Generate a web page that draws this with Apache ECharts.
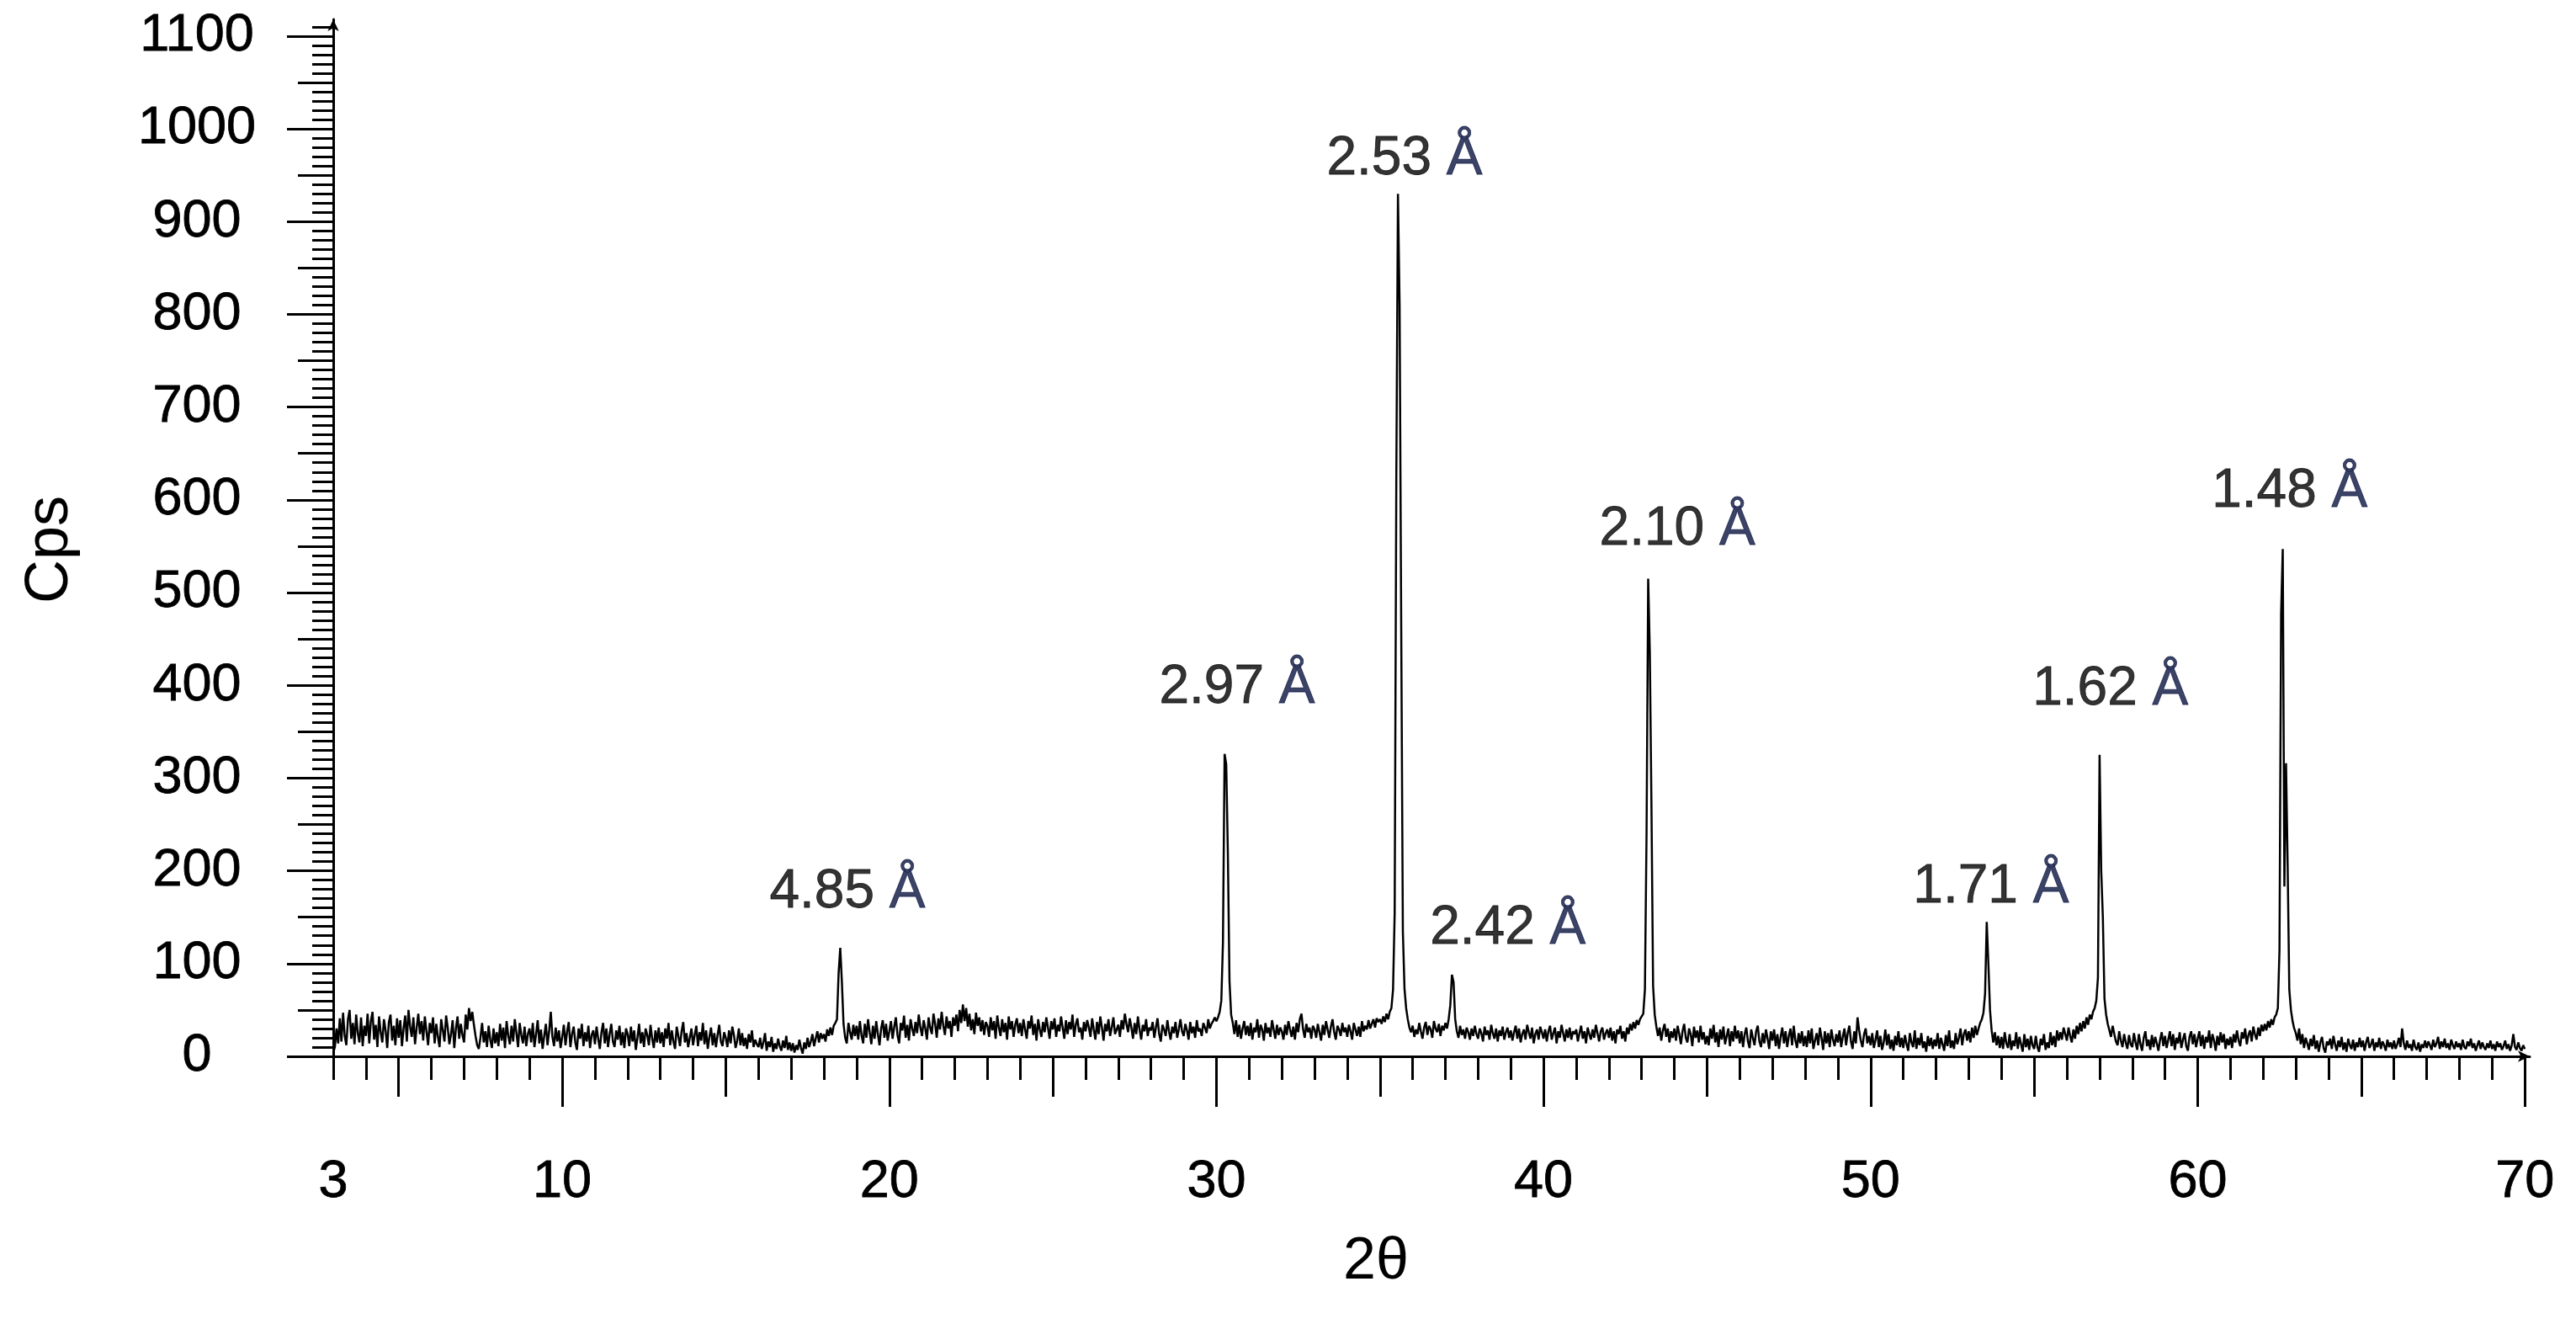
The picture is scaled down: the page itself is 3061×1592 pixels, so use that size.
<!DOCTYPE html>
<html>
<head>
<meta charset="utf-8">
<script src="https://cdn.jsdelivr.net/npm/echarts@6/dist/echarts.min.js"></script>
<style>
  html, body { margin: 0; background: #fff; }
  #chart { width: 3061px; height: 1592px; }
</style>
</head>
<body>
<div id="chart"></div>
<script>
// XRD scan: 2θ from 3.00 to 70.00, step 0.05 (one line per degree)
const scanStart = 3
const scanStep = 0.05
const cps = [
  4, 10, 30, 14, 41, 16, 47, 22, 12, 40, 50, 19, 36, 13, 45, 25, 15, 42, 11, 33, // 3
  22, 46, 14, 38, 48, 18, 34, 10, 43, 26, 15, 40, 28, 9, 37, 45, 17, 33, 12, 41, // 4
  20, 39, 11, 30, 44, 16, 50, 32, 21, 42, 13, 31, 46, 24, 38, 17, 43, 27, 12, 36, // 5
  25, 42, 14, 35, 21, 10, 40, 28, 16, 44, 31, 13, 24, 39, 9, 30, 43, 19, 35, 23, // 6
  15, 45, 29, 52, 38, 48, 34, 22, 12, 8, 20, 36, 15, 27, 10, 33, 18, 9, 30, 14, // 7
  26, 11, 35, 17, 31, 9, 38, 22, 13, 33, 16, 40, 25, 10, 36, 23, 14, 32, 11, 24, // 8
  30, 15, 36, 10, 24, 39, 14, 29, 8, 22, 35, 12, 27, 48, 21, 11, 31, 16, 28, 9, // 9
  21, 34, 12, 27, 37, 10, 24, 32, 15, 7, 30, 19, 35, 11, 26, 16, 33, 9, 23, 28, // 10
  13, 32, 19, 8, 26, 36, 14, 30, 10, 24, 35, 16, 10, 28, 18, 33, 12, 26, 9, 30, // 11
  24, 11, 32, 16, 28, 7, 20, 35, 14, 26, 10, 30, 23, 12, 34, 19, 9, 28, 15, 31, // 12
  14, 26, 10, 30, 19, 36, 12, 28, 16, 8, 32, 22, 11, 27, 37, 15, 25, 10, 20, 30, // 13
  12, 23, 33, 11, 26, 17, 36, 13, 28, 8, 21, 31, 12, 25, 10, 23, 34, 16, 11, 26, // 14
  20, 10, 28, 14, 32, 23, 9, 17, 30, 12, 25, 11, 20, 8, 24, 15, 28, 10, 18, 13, // 15
  10, 20, 8, 15, 25, 6, 16, 10, 21, 5, 14, 8, 19, 11, 6, 17, 9, 22, 7, 15, // 16
  6, 14, 4, 12, 7, 18, 9, 3, 15, 8, 20, 10, 16, 24, 11, 19, 27, 15, 25, 19, // 17
  24, 16, 29, 22, 31, 23, 33, 36, 40, 90, 117, 80, 35, 20, 14, 36, 26, 18, 34, 22, // 18
  33, 18, 38, 23, 14, 35, 20, 40, 26, 13, 33, 19, 38, 24, 12, 30, 39, 20, 35, 17, // 19
  27, 38, 19, 32, 42, 23, 14, 36, 28, 44, 20, 34, 17, 40, 30, 22, 37, 25, 45, 31, // 20
  22, 39, 30, 18, 42, 31, 24, 46, 35, 20, 41, 29, 48, 33, 23, 43, 30, 38, 21, 42, // 21
  33, 45, 27, 50, 36, 56, 38, 52, 32, 46, 28, 40, 24, 47, 33, 42, 27, 39, 23, 37, // 22
  33, 21, 42, 28, 38, 19, 44, 31, 22, 40, 26, 36, 18, 43, 29, 38, 21, 34, 41, 25, // 23
  36, 22, 40, 29, 19, 38, 30, 44, 23, 35, 17, 40, 29, 21, 37, 26, 42, 31, 19, 38, // 24
  29, 41, 21, 34, 27, 43, 31, 19, 39, 24, 37, 29, 45, 21, 34, 41, 26, 31, 18, 37, // 25
  27, 39, 31, 21, 41, 29, 18, 37, 24, 43, 31, 17, 35, 27, 40, 22, 31, 42, 24, 29, // 26
  34, 21, 39, 29, 46, 35, 26, 41, 31, 19, 36, 24, 43, 29, 18, 34, 27, 40, 22, 31, // 27
  28, 37, 20, 31, 41, 24, 16, 34, 29, 22, 39, 27, 18, 32, 25, 37, 20, 29, 40, 27, // 28
  22, 35, 28, 18, 37, 25, 32, 20, 39, 27, 30, 22, 36, 31, 25, 40, 30, 35, 38, 42, // 29
  38, 42, 48, 60, 123, 326, 315, 219, 81, 45, 36, 24, 39, 21, 34, 19, 30, 38, 23, 33, // 30
  22, 36, 18, 31, 26, 40, 20, 34, 29, 17, 36, 25, 31, 21, 39, 29, 19, 34, 23, 31, // 31
  27, 18, 34, 23, 38, 29, 21, 32, 18, 36, 26, 40, 46, 29, 20, 35, 26, 31, 19, 33, // 32
  29, 20, 35, 26, 17, 34, 23, 38, 29, 20, 32, 40, 26, 18, 33, 29, 22, 36, 26, 31, // 33
  21, 34, 27, 18, 36, 29, 22, 32, 21, 38, 27, 33, 29, 39, 30, 35, 40, 31, 41, 37, // 34
  40, 35, 43, 37, 46, 40, 48, 52, 72, 155, 625, 930, 810, 460, 135, 73, 52, 40, 31, 26, // 35
  33, 21, 29, 24, 36, 27, 19, 31, 37, 23, 33, 29, 20, 38, 30, 26, 35, 22, 33, 28, // 36
  36, 30, 40, 55, 88, 80, 40, 27, 20, 33, 23, 29, 19, 31, 26, 18, 30, 22, 33, 24, // 37
  19, 30, 25, 16, 32, 23, 28, 18, 34, 25, 19, 30, 16, 28, 22, 32, 18, 26, 31, 20, // 38
  28, 17, 26, 33, 19, 30, 15, 24, 29, 18, 34, 26, 19, 31, 14, 24, 29, 18, 32, 26, // 39
  19, 29, 16, 27, 33, 18, 25, 31, 14, 27, 20, 34, 25, 16, 29, 20, 31, 18, 27, 24, // 40
  29, 16, 25, 33, 19, 27, 14, 31, 24, 18, 29, 20, 34, 25, 16, 27, 31, 18, 25, 29, // 41
  20, 31, 17, 27, 14, 29, 24, 33, 19, 27, 16, 31, 24, 35, 28, 37, 30, 39, 34, 40, // 42
  40, 46, 72, 240, 515, 435, 270, 76, 45, 32, 22, 31, 17, 28, 35, 21, 30, 15, 27, 20, // 43
  30, 17, 33, 24, 13, 27, 35, 20, 15, 30, 24, 11, 32, 20, 28, 15, 33, 18, 26, 13, // 44
  22, 12, 30, 19, 34, 15, 26, 10, 29, 18, 32, 13, 22, 30, 11, 27, 16, 33, 19, 28, // 45
  14, 27, 10, 24, 31, 16, 9, 29, 20, 12, 27, 33, 16, 10, 25, 14, 29, 19, 8, 27, // 46
  17, 29, 11, 24, 8, 21, 31, 14, 27, 10, 22, 30, 12, 33, 17, 9, 25, 14, 27, 11, // 47
  22, 10, 28, 14, 30, 8, 17, 25, 12, 31, 20, 7, 27, 14, 25, 10, 29, 18, 11, 24, // 48
  15, 28, 10, 21, 30, 12, 25, 33, 16, 8, 27, 14, 42, 28, 17, 10, 24, 30, 14, 22, // 49
  12, 25, 9, 18, 28, 10, 22, 7, 15, 29, 12, 24, 8, 18, 6, 22, 12, 27, 10, 20, // 50
  9, 23, 13, 6, 25, 15, 10, 28, 8, 20, 12, 25, 9, 16, 5, 22, 11, 20, 8, 18, // 51
  11, 25, 8, 20, 13, 6, 23, 11, 28, 9, 17, 8, 25, 13, 20, 30, 12, 24, 29, 17, // 52
  27, 15, 31, 20, 33, 23, 30, 36, 40, 47, 68, 145, 100, 50, 28, 15, 26, 12, 22, 9, // 53
  21, 8, 26, 14, 9, 24, 7, 17, 11, 26, 8, 21, 13, 5, 24, 10, 19, 7, 22, 12, // 54
  8, 22, 10, 5, 19, 12, 24, 7, 15, 9, 26, 12, 22, 10, 28, 17, 26, 18, 31, 24, // 55
  17, 31, 22, 15, 29, 19, 33, 24, 36, 27, 38, 30, 42, 34, 45, 40, 48, 52, 60, 85, // 56
  325, 200, 150, 62, 45, 35, 28, 21, 33, 24, 16, 12, 27, 17, 10, 24, 15, 8, 23, 13, // 57
  10, 25, 15, 7, 24, 13, 6, 20, 27, 11, 18, 7, 23, 10, 21, 14, 6, 18, 26, 11, // 58
  22, 9, 18, 27, 11, 24, 7, 20, 14, 26, 9, 18, 25, 11, 6, 21, 27, 13, 24, 10, // 59
  19, 27, 11, 23, 8, 21, 15, 28, 9, 24, 17, 6, 22, 12, 26, 15, 24, 8, 19, 12, // 60
  21, 9, 24, 15, 28, 17, 11, 26, 19, 30, 13, 23, 28, 16, 32, 24, 18, 31, 22, 34, // 61
  27, 35, 28, 38, 31, 40, 34, 42, 45, 52, 115, 477, 547, 183, 316, 205, 72, 50, 38, 30, // 62
  25, 17, 30, 13, 24, 9, 20, 14, 7, 19, 11, 23, 8, 17, 5, 15, 21, 9, 4, 16, // 63
  12, 19, 8, 22, 13, 6, 17, 10, 21, 7, 15, 5, 19, 12, 8, 18, 6, 15, 10, 20, // 64
  10, 17, 6, 15, 21, 9, 13, 19, 6, 15, 10, 20, 8, 16, 12, 6, 18, 10, 15, 8, // 65
  17, 8, 13, 20, 10, 30, 14, 7, 17, 9, 13, 6, 18, 10, 7, 15, 5, 13, 9, 17, // 66
  9, 16, 12, 7, 18, 10, 14, 21, 8, 16, 10, 19, 9, 14, 7, 18, 12, 8, 16, 10, // 67
  14, 7, 18, 10, 8, 16, 11, 19, 9, 14, 6, 12, 17, 8, 15, 10, 7, 14, 9, 17, // 68
  8, 13, 6, 16, 10, 14, 7, 11, 17, 8, 13, 6, 12, 24, 10, 7, 15, 9, 6, 12, // 69
  8 // 70
]

// d-spacing labels and where their text sits (2θ, cps)
const peakNames = ['4.85', '2.97', '2.53', '2.42', '2.10', '1.71', '1.62', '1.48']
const peakLabelAt = [
  [18.72, 177], [30.63, 397], [35.75, 967], [38.91, 138],
  [44.09, 568], [53.68, 182], [57.33, 395], [62.81, 609],
]

const xTickLabels = [3, 10, 20, 30, 40, 50, 60, 70]
const yTickLabels = [0, 100, 200, 300, 400, 500, 600, 700, 800, 900, 1000, 1100]

const X_MIN = 3, X_MAX = 70.15, Y_MAX = 1118
const ink = '#000'
const font = 'Liberation Sans'

const seq = (a, b, s) => { const r = []; for (let v = a; v <= b + 1e-9; v += s) r.push(+v.toFixed(2)); return r }
const xMinor = seq(3, 70, 1)
const xMid = seq(5, 65, 10)
const xMajor = seq(10, 70, 10)
const yMinor = seq(0, 1110, 10)
const yMid = seq(50, 1050, 100)
const yMajor = seq(0, 1100, 100)

const scan = cps.map((v, i) => [+(scanStart + i * scanStep).toFixed(2), v])

const tickAxisX = (vals, len) => ({
  type: 'value', min: X_MIN, max: X_MAX, position: 'bottom', offset: 0,
  axisLine: { show: false },
  axisTick: { show: true, length: len, customValues: vals, lineStyle: { color: ink, width: 3 } },
  axisLabel: { show: false },
  splitLine: { show: false },
})
const tickAxisY = (vals, len) => ({
  type: 'value', min: 0, max: Y_MAX, position: 'left', offset: 0,
  axisLine: { show: false },
  axisTick: { show: true, length: len, customValues: vals, lineStyle: { color: ink, width: 3 } },
  axisLabel: { show: false },
  splitLine: { show: false },
})

const chart = echarts.init(document.getElementById('chart'))
chart.setOption({
  backgroundColor: '#fff',
  animation: false,
  grid: { left: 396, right: 55, top: 23, bottom: 337 },
  xAxis: [
    {
      type: 'value', min: X_MIN, max: X_MAX, position: 'bottom',
      name: '2θ', nameLocation: 'middle', nameGap: 210,
      nameTextStyle: { color: '#000', fontSize: 70, fontFamily: font, padding: [0, 132, 0, 0] },
      axisLine: { show: true, symbol: ['none', 'arrow'], symbolSize: [10, 14], lineStyle: { color: ink, width: 3 } },
      axisTick: { show: true, length: 28, customValues: xMinor, lineStyle: { color: ink, width: 3 } },
      axisLabel: {
        customValues: xTickLabels, margin: 118,
        color: '#000', fontSize: 63, fontFamily: font, formatter: (v) => String(v),
        textBorderColor: '#000', textBorderWidth: 0.8,
      },
      splitLine: { show: false },
    },
    tickAxisX(xMid, 48),
    tickAxisX(xMajor, 60),
  ],
  yAxis: [
    {
      type: 'value', min: 0, max: Y_MAX, position: 'left',
      name: 'Cps', nameLocation: 'middle', nameGap: 300,
      nameTextStyle: { color: '#000', fontSize: 72, fontFamily: font, padding: [0, 28, 0, 0] },
      axisLine: { show: true, symbol: ['none', 'arrow'], symbolSize: [10, 14], lineStyle: { color: ink, width: 3 } },
      axisTick: { show: true, length: 25, customValues: yMinor, lineStyle: { color: ink, width: 3 } },
      axisLabel: {
        customValues: yTickLabels, margin: 162, align: 'center', padding: [36, 0, 0, 0],
        color: '#000', fontSize: 63, fontFamily: font, formatter: (v) => String(v),
        textBorderColor: '#000', textBorderWidth: 0.8,
      },
      splitLine: { show: false },
    },
    tickAxisY(yMid, 42),
    tickAxisY(yMajor, 55),
  ],
  series: [
    {
      name: 'scan', type: 'line', data: scan,
      showSymbol: false, symbol: 'none',
      lineStyle: { color: '#000', width: 2.5 },
      z: 3,
    },
    {
      name: 'd-spacing', type: 'scatter',
      data: peakLabelAt.map((p, i) => [p[0], p[1], peakNames[i]]),
      symbolSize: 1, itemStyle: { color: 'rgba(0,0,0,0)' },
      label: {
        show: true, position: 'inside',
        formatter: (p) => `{n|${p.data[2]}\u00a0}{a|Å}`,
        rich: {
          n: { color: '#000', fontSize: 64, fontFamily: font, textBorderColor: '#000', textBorderWidth: 0.8 },
          a: { color: '#0a1440', fontSize: 64, fontFamily: font, textBorderColor: '#0a1440', textBorderWidth: 0.8 },
        },
      },
      z: 4,
    },
  ],
})
</script>
</body>
</html>
